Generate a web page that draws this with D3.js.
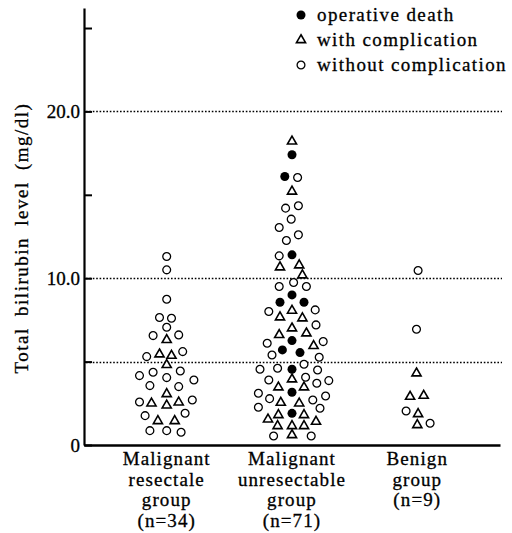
<!DOCTYPE html>
<html>
<head>
<meta charset="utf-8">
<script src="https://cdn.jsdelivr.net/npm/d3@7"></script>
<style>
  html, body { margin: 0; padding: 0; background: #fff; }
  svg text { font-family: "Liberation Serif", "Times New Roman", serif; fill: #000; stroke: #000; stroke-width: 0.3px; }
</style>
</head>
<body>
<svg width="512" height="533"></svg>
<script>
// groups on the x axis
var groupKeys = ["resectable", "unresectable", "benign"];
var groupLines = [
  ["Malignant", "resectale", "group", "(n=34)"],
  ["Malignant", "unresectable", "group", "(n=71)"],
  ["Benign", "group", "(n=9)"]
];

// d = operative death, t = with complication, o = without complication
// offset = sideways place in the swarm, in marker widths
var resectValues = [11.3, 10.5, 8.74, 7.64, 7.6, 7.06, 6.56, 6.6, 6.3, 5.6, 5.3, 5.44, 5.36, 4.8, 4.16, 4.36, 4.44,
  4.04, 3.9, 3.56, 3.5, 3.06, 2.58, 2.5, 2.38, 2.56, 2.7, 1.76, 1.44, 1.44, 1.9, 0.86, 0.86, 0.76];
var resectKinds = ["o","o","o","o","o","o","o","o","t","o","o","t","t","t","o","o","o",
  "o","o","o","o","t","o","t","t","t","o","o","t","t","o","o","o","o"];
var resectOffsets = [0, 0, 0, -0.9, 0.6, 0, -1.7, 1.5, 0, 2.0, -2.5, -0.9, 0.6, 0, -3.4, -1.7, 1.7,
  0, 3.4, -2.1, 1.5, 0, -3.4, -1.9, 0, 1.5, 3.2, -2.7, -1.1, 1.0, 2.3, -2.1, 0, 1.8];

var unresValues = [18.2, 17.4, 16.1, 16.04, 15.2, 14.2, 14.34, 13.54, 13.04, 12.6, 12.26, 11.34, 11.4, 10.66, 10.78, 10.18,
  9.5, 9.74, 9.5, 9.0, 8.56, 8.56, 8.0, 7.66, 8.06, 7.6, 8.1, 7.2, 7.0, 6.6, 6.7, 6.26, 6.1, 6.2, 5.94,
  5.7, 5.54, 5.4, 5.26, 4.54, 4.6, 4.54, 4.84, 4.5, 3.9, 3.94, 4.06, 3.7, 3.86, 3.46, 3.16, 3.46,
  3.1, 2.78, 2.7, 2.94, 2.54, 2.5, 2.26, 1.9, 2.2, 1.54, 1.8, 1.8, 1.4, 1.14, 1.14, 1.14, 0.54, 0.6, 0.54];
var unresKinds = ["t","d","d","o","t","o","o","o","o","o","o","o","d","t","t","t",
  "o","o","o","d","d","d","o","t","t","t","o","o","t","t","t","d","o","o","t",
  "d","d","o","o","o","o","d","o","o","o","t","o","o","o","t","d","t",
  "o","o","o","o","t","t","o","d","o","t","t","t","t","t","t","t","o","t","o"];
var unresOffsets = [0, 0, -0.9, 0.7, 0, -0.8, 0.8, -0.1, -1.6, 0.8, -0.7, -1.6, 0, -1.5, 0.9, 1.3,
  -1.6, 0.2, 1.8, 0, -1.5, 1.5, -2.9, -1.5, 0, 1.3, 2.9, 3.0, 0, -1.6, 1.8, 0, -3.1, 3.9, 2.7,
  -1.2, 1.0, -2.5, 3.4, -4.0, -1.8, 0, 1.5, 3.2, -2.9, 0, 1.7, 3.1, 4.6, -1.7, 0, 1.5,
  -4.2, -2.8, 2.6, 4.2, -1.4, 0.9, -4.2, 0, 3.5, -3.0, -1.7, 1.5, 3.0, -1.8, 0, 1.5, -2.3, 0, 2.4];

var benignValues = [10.46, 6.94, 4.3, 2.9, 2.96, 2.04, 1.86, 1.2, 1.3];
var benignKinds = ["o","o","t","t","t","o","t","t","o"];
var benignOffsets = [0.1, -0.1, -0.1, -0.9, 0.8, -1.4, 0.1, 0, 1.6];

var yTicks = [0, 5, 10, 15, 20, 25];
var yLabelled = [0, 10, 20];
var refLines = [5, 10, 20];

var legendKinds = ["d", "t", "o"];
var legendLabels = ["operative death", "with complication", "without complication"];

var svg = d3.select("svg");

var y = d3.scaleLinear().domain([0, 26.2]).range([445, 8]);
var x = d3.scalePoint().domain(groupKeys).range([84, 500]).padding(0.66);
var jitter = d3.scaleLinear().domain([-1, 1]).range([-8, 8]);

// dotted reference lines
svg.append("g").selectAll("line")
  .data(refLines)
  .enter().append("line")
    .attr("x1", 86).attr("x2", 502)
    .attr("y1", function(d) { return Math.round(y(d)) + 0.5; })
    .attr("y2", function(d) { return Math.round(y(d)) + 0.5; })
    .attr("stroke", "#000")
    .attr("stroke-width", 1.6)
    .attr("stroke-dasharray", "1.6 1.8");

// y axis, ticks pointing inward
var yAxis = d3.axisLeft(y)
  .tickValues(yTicks)
  .tickSizeInner(-8)
  .tickSizeOuter(0)
  .tickPadding(4)
  .tickFormat(function(d) {
    if (yLabelled.indexOf(d) < 0) return "";
    return d === 0 ? "0" : d.toFixed(1);
  });

var gy = svg.append("g").attr("transform", "translate(84,0)").call(yAxis);
gy.attr("font-size", 19);
gy.select(".domain").attr("stroke-width", 2.2);
gy.selectAll(".tick line").attr("stroke-width", 2);

// x axis base line
var xAxis = d3.axisBottom(x).tickValues([]).tickSizeOuter(0);
var gx = svg.append("g").attr("transform", "translate(0,445)").call(xAxis);
gx.select(".domain").attr("stroke-width", 2.6);

// group labels
groupKeys.forEach(function(g, i) {
  svg.append("text")
    .attr("x", x(g))
    .attr("y", 465)
    .attr("text-anchor", "middle")
    .attr("font-size", 19)
    .attr("letter-spacing", 1.1)
    .selectAll("tspan")
    .data(groupLines[i])
    .enter().append("tspan")
      .attr("x", x(g))
      .attr("dy", function(d, j) { return j === 0 ? 0 : 20.7; })
      .text(function(d) { return d; });
});

// y axis title
svg.append("text")
  .attr("transform", "translate(28,238) rotate(-90)")
  .attr("text-anchor", "middle")
  .attr("font-size", 19)
  .attr("letter-spacing", 1.5)
  .attr("word-spacing", 5)
  .text("Total bilirubin level (mg/dl)");

// marks
var tri = d3.symbol().type(d3.symbolTriangle).size(36);

function drawMark(sel, kind) {
  if (kind === "d") {
    sel.append("circle").attr("r", 4.5).attr("fill", "#000");
  } else if (kind === "t") {
    sel.append("path").attr("d", tri())
      .attr("fill", "#fff").attr("stroke", "#000").attr("stroke-width", 1.6)
      .attr("stroke-linejoin", "miter");
  } else {
    sel.append("circle").attr("r", 3.9)
      .attr("fill", "#fff").attr("stroke", "#000").attr("stroke-width", 1.3);
  }
}

function drawGroup(key, values, kinds, offsets) {
  var pts = values.map(function(v, i) {
    return { value: v, kind: kinds[i], offset: offsets[i] };
  });
  svg.append("g").attr("class", "group " + key)
    .selectAll("g")
    .data(pts)
    .enter().append("g")
      .attr("transform", function(d) {
        return "translate(" + (x(key) + jitter(d.offset)) + "," + y(d.value) + ")";
      })
      .each(function(d) { drawMark(d3.select(this), d.kind); });
}

drawGroup("resectable", resectValues, resectKinds, resectOffsets);
drawGroup("unresectable", unresValues, unresKinds, unresOffsets);
drawGroup("benign", benignValues, benignKinds, benignOffsets);

// legend
var legend = svg.append("g").attr("class", "legend");
legendKinds.forEach(function(k, i) {
  var row = legend.append("g").attr("transform", "translate(301," + (15 + i * 25) + ")");
  drawMark(row, k);
  row.append("text")
    .attr("x", 16)
    .attr("y", 6)
    .attr("font-size", 19)
    .attr("letter-spacing", 1.4)
    .text(legendLabels[i]);
});
</script>
</body>
</html>
